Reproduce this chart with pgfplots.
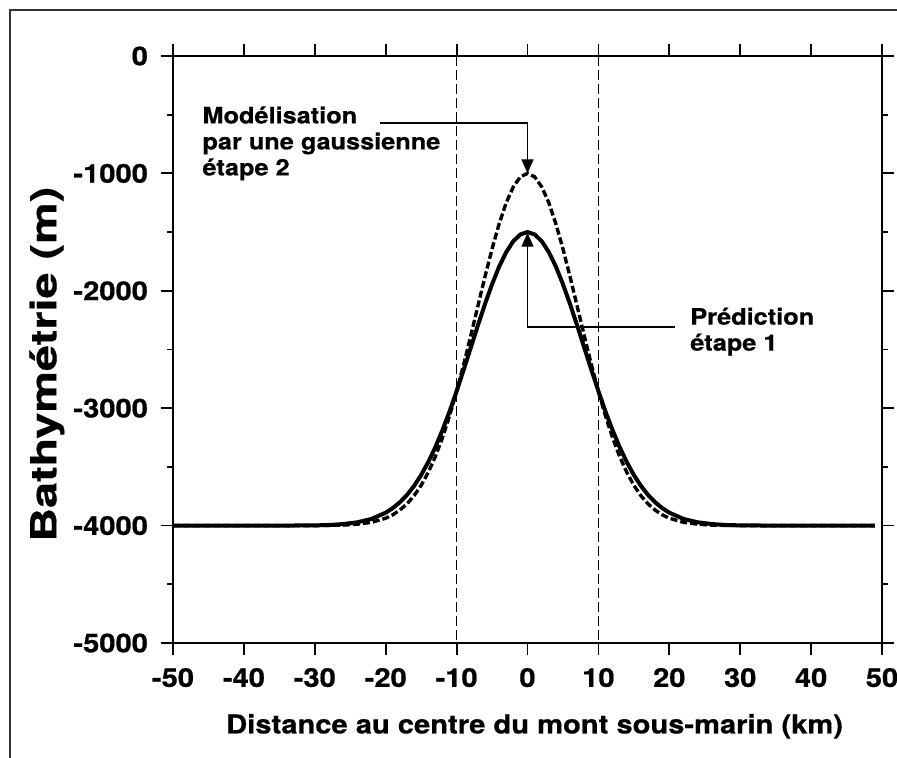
\documentclass[border=0pt]{standalone}
\usepackage{pgfplots}
\pgfplotsset{compat=1.18}
\usetikzlibrary{arrows.meta}
\usepackage{fontspec}
\setmainfont{TeX Gyre Heros}[FakeStretch=1.12, BoldFeatures={FakeBold=0.6}]
\newfontfamily\ylabfont{TeX Gyre Heros}[FakeStretch=1.3, BoldFeatures={FakeBold=0.6}]
\begin{document}
\begin{tikzpicture}
\useasboundingbox (-86.5pt,-57.5pt) rectangle (362pt,321.5pt);
\draw[line width=0.6pt,black!80] (-81.5pt,-57.5pt) -- (-81.5pt,316.5pt) -- (362pt,316.5pt);
\begin{axis}[
  at={(0,0)}, anchor=south west,
  scale only axis, width=354.5pt, height=293.5pt,
  xmin=-50, xmax=50, ymin=-5000, ymax=0,
  xtick={-50,-40,...,50}, ytick={-5000,-4000,...,0},
  minor ytick={-4500,-3500,-2500,-1500,-500},
  tick align=outside, major tick length=6pt, minor tick length=3pt,
  axis line style={line width=1.1pt},
  every tick/.style={line width=0.9pt,black},
  xticklabel style={font=\bfseries\fontsize{13}{13}\selectfont, yshift=-3pt},
  yticklabel style={font=\bfseries\fontsize{13}{13}\selectfont, xshift=-3pt},
  /pgf/number format/assume math mode=true,
  /pgf/number format/set thousands separator={},
  xlabel={Distance au centre du mont sous-marin (km)},
  ylabel={Bathymétrie (m)},
  every axis x label/.style={at={(axis description cs:0.51,-0.142)}, anchor=center},
  every axis y label/.style={at={(axis description cs:-0.178,0.475)}, anchor=center, rotate=90},
  xlabel style={font=\bfseries\fontsize{13}{14}\selectfont},
  ylabel style={font=\ylabfont\bfseries\fontsize{18}{19}\selectfont},
  clip=false,
]
\addplot[black, line width=0.5pt, dash pattern=on 5pt off 2pt] coordinates {(-10,0) (-10,-5000)};
\addplot[black, line width=0.5pt, dash pattern=on 5pt off 2pt] coordinates {(10,0) (10,-5000)};
% dashed: gaussian model (step 2)
\addplot[black, line width=1.7pt, dash pattern=on 3.5pt off 1.5pt] coordinates {
(-50,-4000) (-40,-4000) (-30,-4000) (-28,-3998) (-26,-3996) (-24,-3988) (-22,-3972) (-20,-3937)
(-19,-3908) (-18,-3868) (-17,-3815) (-16,-3746) (-15,-3657) (-14,-3547) (-13,-3412) (-12,-3252)
(-11,-3066) (-10,-2857) (-9,-2627) (-8,-2382) (-7,-2130) (-6,-1880) (-5,-1643) (-4,-1429)
(-3,-1249) (-2,-1114) (-1,-1029) (0,-1000) (1,-1029) (2,-1114) (3,-1249) (4,-1429) (5,-1643)
(6,-1880) (7,-2130) (8,-2382) (9,-2627) (10,-2857) (11,-3066) (12,-3252) (13,-3412) (14,-3547)
(15,-3657) (16,-3746) (17,-3815) (18,-3868) (19,-3908) (20,-3937) (22,-3972) (24,-3988)
(26,-3996) (28,-3998) (30,-4000) (40,-4000) (49,-4000)};
% solid: prediction (step 1)
\addplot[black, line width=2pt] coordinates {
(-50,-4000) (-40,-4000) (-35,-4000) (-30,-3998) (-28,-3995) (-26,-3987) (-24,-3972) (-22,-3943)
(-20,-3890) (-19,-3851) (-18,-3801) (-17,-3739) (-16,-3662) (-15,-3569) (-14,-3459) (-13,-3332)
(-12,-3188) (-11,-3029) (-10,-2855) (-9,-2672) (-8,-2484) (-7,-2295) (-6,-2113) (-5,-1944)
(-4,-1794) (-3,-1670) (-2,-1577) (-1,-1520) (0,-1500) (1,-1520) (2,-1577) (3,-1670) (4,-1794)
(5,-1944) (6,-2113) (7,-2295) (8,-2484) (9,-2672) (10,-2855) (11,-3029) (12,-3188) (13,-3332)
(14,-3459) (15,-3569) (16,-3662) (17,-3739) (18,-3801) (19,-3851) (20,-3890) (22,-3943)
(24,-3972) (26,-3987) (28,-3995) (30,-3998) (35,-4000) (40,-4000) (49,-4000)};
% annotations
\draw[line width=0.6pt, -{Triangle[length=7pt,width=6pt]}] (axis cs:-20.8,-571) -- (axis cs:0,-571) -- (axis cs:0,-1000);
\draw[line width=0.6pt, -{Triangle[length=7pt,width=6pt]}] (axis cs:20.8,-2308) -- (axis cs:0,-2308) -- (axis cs:0,-1505);
\node[anchor=north west, align=left, font=\bfseries\fontsize{11.3}{13}\selectfont, inner sep=0pt]
  at (axis cs:-45.9,-426) {Modélisation\\par une gaussienne\\étape 2};
\node[anchor=north west, align=left, font=\bfseries\fontsize{11.3}{13}\selectfont, inner sep=0pt]
  at (axis cs:22.9,-2140) {Prédiction\\étape 1};
\end{axis}
\end{tikzpicture}
\end{document}
